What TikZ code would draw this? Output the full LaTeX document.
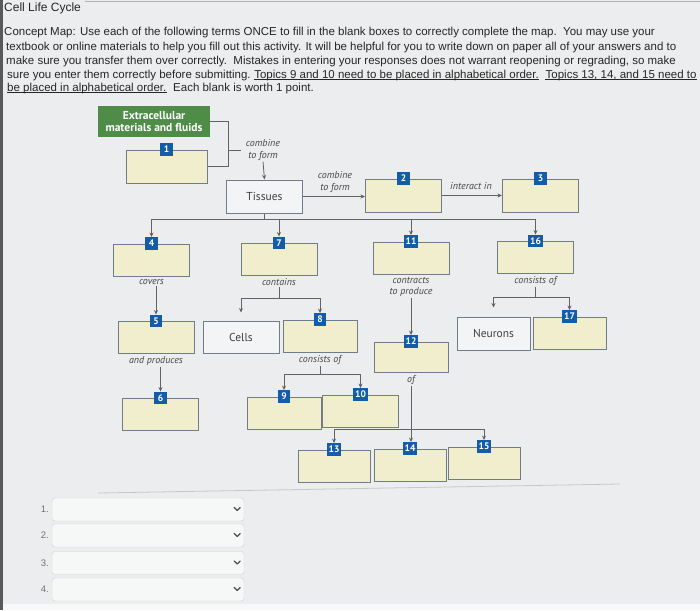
\documentclass[tikz,border=0pt]{standalone}
\usepackage{fontspec}
\setmainfont{Liberation Sans}
\newfontfamily\mapfont{PT Sans}
\usetikzlibrary{arrows.meta,positioning,calc}
\definecolor{pagegray}{RGB}{236,237,238}
\definecolor{blankfill}{RGB}{240,238,204}
\definecolor{boxline}{RGB}{112,124,138}
\definecolor{badgeblue}{RGB}{18,92,168}
\definecolor{headgreen}{RGB}{78,140,72}
\definecolor{linkgray}{RGB}{95,98,102}
\definecolor{givenfill}{RGB}{243,244,246}

\begin{document}
\begin{tikzpicture}[x=1pt, y=-1pt, >={Stealth[length=4.5pt,width=4pt]},
  blank/.style={draw=boxline, line width=1pt, fill=blankfill, minimum width=76pt, minimum height=32pt, inner sep=0pt},
  given/.style={blank, fill=givenfill, font=\mapfont\fontsize{11.5}{13}\selectfont, text=black!75},
  badge/.style={fill=badgeblue, text=white, font=\mapfont\bfseries\fontsize{9.5}{9.5}\selectfont, minimum width=12.5pt, minimum height=12.5pt, inner sep=1pt, inner xsep=2pt},
  hdr/.style={fill=headgreen, text=white, font=\mapfont\bfseries\fontsize{11.5}{12}\selectfont, align=center, minimum width=112pt, minimum height=31pt, inner sep=1pt},
  lbl/.style={font=\mapfont\itshape\fontsize{10}{11.5}\selectfont, text=black!72, align=center, inner sep=1pt},
  link/.style={draw=linkgray, line width=0.8pt},
  arr/.style={link, ->},
  para/.style={anchor=base west, inner sep=0pt, font=\fontsize{11.5}{13}\selectfont, text=black!85},
  uline/.style={draw=black!85, line width=0.6pt},
  drop/.style={draw=black!18, fill=white!55!pagegray, rounded corners=3pt, minimum width=192pt, minimum height=23pt},
]
\useasboundingbox (0,0) rectangle (700,610);
% page
\fill[pagegray] (0,0) rectangle (700,610);
\fill[white!60!pagegray] (0,604) rectangle (700,610);
\fill[black!65] (0,0) rectangle (2.5,610);
\draw[black!30] (85,1) -- (700,1);

% heading and instructions
\node[para, font=\fontsize{12}{13}\selectfont] (title) at (4,12) {Cell Life Cycle};
\node[para] (p1) at (4,36) {Concept Map: Use each of the following terms ONCE to fill in the blank boxes to correctly complete the map.\ \ You may use your};
\node[para] (p2) at (6,50) {textbook or online materials to help you fill out this activity. It will be helpful for you to write down on paper all of your answers and to};
\node[para] (p3) at (6,64) {make sure you transfer them over correctly.\ \ Mistakes in entering your responses does not warrant reopening or regrading, so make};
\node[para] (p4) at (7,78) {sure you enter them correctly before submitting.};
\node[para] (p4b) at ([xshift=3.2pt]p4.base east) {Topics 9 and 10 need to be placed in alphabetical order.};
\node[para] (p4c) at ([xshift=6.4pt]p4b.base east) {Topics 13, 14, and 15 need to};
\node[para] (p5) at (7,91) {be placed in alphabetical order.};
\node[para] (p5b) at ([xshift=6.4pt]p5.base east) {Each blank is worth 1 point.};
\foreach \u in {p4b,p4c,p5}
  \draw[uline] ([yshift=-1.6pt]\u.base west) -- ([yshift=-1.6pt]\u.base east);

% boxes of the map
\node[hdr] (hdr) at (154,121.5) {Extracellular\\materials and fluids};
\node[blank, minimum width=81pt, minimum height=33pt] (b1) at (166.5,166.5) {};
\node[given, minimum height=33pt] (tissues) at (264.5,196.5) {Tissues};
\node[blank, minimum height=33pt] (b2) at (403.5,195.5) {};
\node[blank, minimum height=33pt] (b3) at (540.5,195.5) {};
\node[blank] (b4) at (151.5,260) {};
\node[blank] (b7) at (279,259.5) {};
\node[blank] (b11) at (411,258) {};
\node[blank] (b16) at (535.5,257.5) {};
\node[blank] (b5) at (156,337.5) {};
\node[given] (cells) at (241,337) {Cells};
\node[blank, minimum width=74pt] (b8) at (320,336) {};
\node[blank, minimum width=74pt, minimum height=30pt] (b12) at (411,357) {};
\node[given, minimum width=73pt, minimum height=33pt] (neurons) at (493.5,333.5) {Neurons};
\node[blank, minimum width=73pt] (b17) at (569.5,333) {};
\node[blank] (b6) at (160.5,414.5) {};
\node[blank, minimum width=74pt] (b9) at (284,413) {};
\node[blank] (b10) at (360.5,411) {};
\node[blank, minimum width=72pt] (b13) at (334,466) {};
\node[blank, minimum width=72pt] (b14) at (410,465) {};
\node[blank, minimum width=72pt] (b15) at (484,463) {};

% number tags
\foreach \k in {1,...,17}
  \node[badge] (n\k) at (b\k.north) {\k};

% link words
\node[lbl] (lb1) at (263,150) {combine\\to form};
\node[lbl] (lbt) at (335,182) {combine\\to form};
\node[lbl] (lb2) at (471,186) {interact in};
\node[lbl, below=1.5pt of b4] (lb4) {covers};
\node[lbl, below=1.5pt of b7] (lb7) {contains};
\node[lbl, below=1.5pt of b11] (lb11) {contracts\\to produce};
\node[lbl, below=1pt of b16] (lb16) {consists of};
\node[lbl, below=1.5pt of b5] (lb5) {and produces};
\node[lbl, below=1.5pt of b8] (lb8) {consists of};
\node[lbl, below=1.5pt of b12] (lb12) {of};

% connectors
\coordinate (brk) at (228,0);
\draw[link] (hdr.east) -- (hdr.east -| brk) |- (b1.east);
\draw[link, shorten >=4pt] (brk |- lb1.west) -- (lb1.west);
\draw[arr] (lb1.south) -- (tissues.north);
\draw[arr] (tissues.east) -- (tissues.east -| b2.west);
\draw[arr] (b2.east) -- (b3.west);

\coordinate (bus1) at (0,219);
\draw[link] (tissues.south) -- (tissues.south |- bus1);
\draw[link] (n4 |- bus1) -- (n16 |- bus1);
\foreach \n in {n4,n7,n11,n16}
  \draw[arr] (\n |- bus1) -- (\n.north);

\draw[arr] (lb4.south -| n5) -- (n5.north);
\draw[arr] (lb5.south -| n6) -- (n6.north);
\draw[arr] (lb11.south) -- (n12.north);

\coordinate (bus2) at (0,298);
\draw[link] (lb7.south) -- (lb7.south |- bus2);
\draw[link] (cells.north |- bus2) -- (n8 |- bus2);
\draw[arr, shorten >=8pt] (cells.north |- bus2) -- (cells.north);
\draw[arr] (n8 |- bus2) -- (n8.north);

\coordinate (bus3) at (0,297);
\draw[link] (lb16.south) -- (lb16.south |- bus3);
\draw[link] (neurons.north |- bus3) -- (n17 |- bus3);
\draw[arr, shorten >=9pt] (neurons.north |- bus3) -- (neurons.north);
\draw[arr] (n17 |- bus3) -- (n17.north);

\coordinate (bus4) at (0,374);
\draw[link] (lb8.south) -- (lb8.south |- bus4);
\draw[link] (n9 |- bus4) -- (n10 |- bus4);
\draw[arr] (n9 |- bus4) -- (n9.north);
\draw[arr] (n10 |- bus4) -- (n10.north);

\coordinate (bus5) at (0,429);
\draw[arr] (lb12.south) -- (lb12.south |- n14.north);
\draw[link] (n13 |- bus5) -- (n15 |- bus5);
\draw[arr] (n13 |- bus5) -- (n13.north);
\draw[arr] (n15 |- bus5) -- (n15.north);

% answer lists
\draw[black!22, line width=0.8pt] (98,493) -- (620,484);
\foreach \i/\yy in {1/509.5,2/535.5,3/563,4/589.5} {
  \node[drop] (dd\i) at (148,\yy) {};
  \node[anchor=east, inner sep=1pt, font=\fontsize{9.5}{10}\selectfont, text=black!55] (dn\i) at (50,\yy) {\i.};
  \draw[black!70, line width=1.3pt, line cap=round, line join=round]
    ([xshift=-10pt,yshift=2pt]dd\i.east) -- ++(3,3) -- ++(3,-3);
}
\end{tikzpicture}
\end{document}
